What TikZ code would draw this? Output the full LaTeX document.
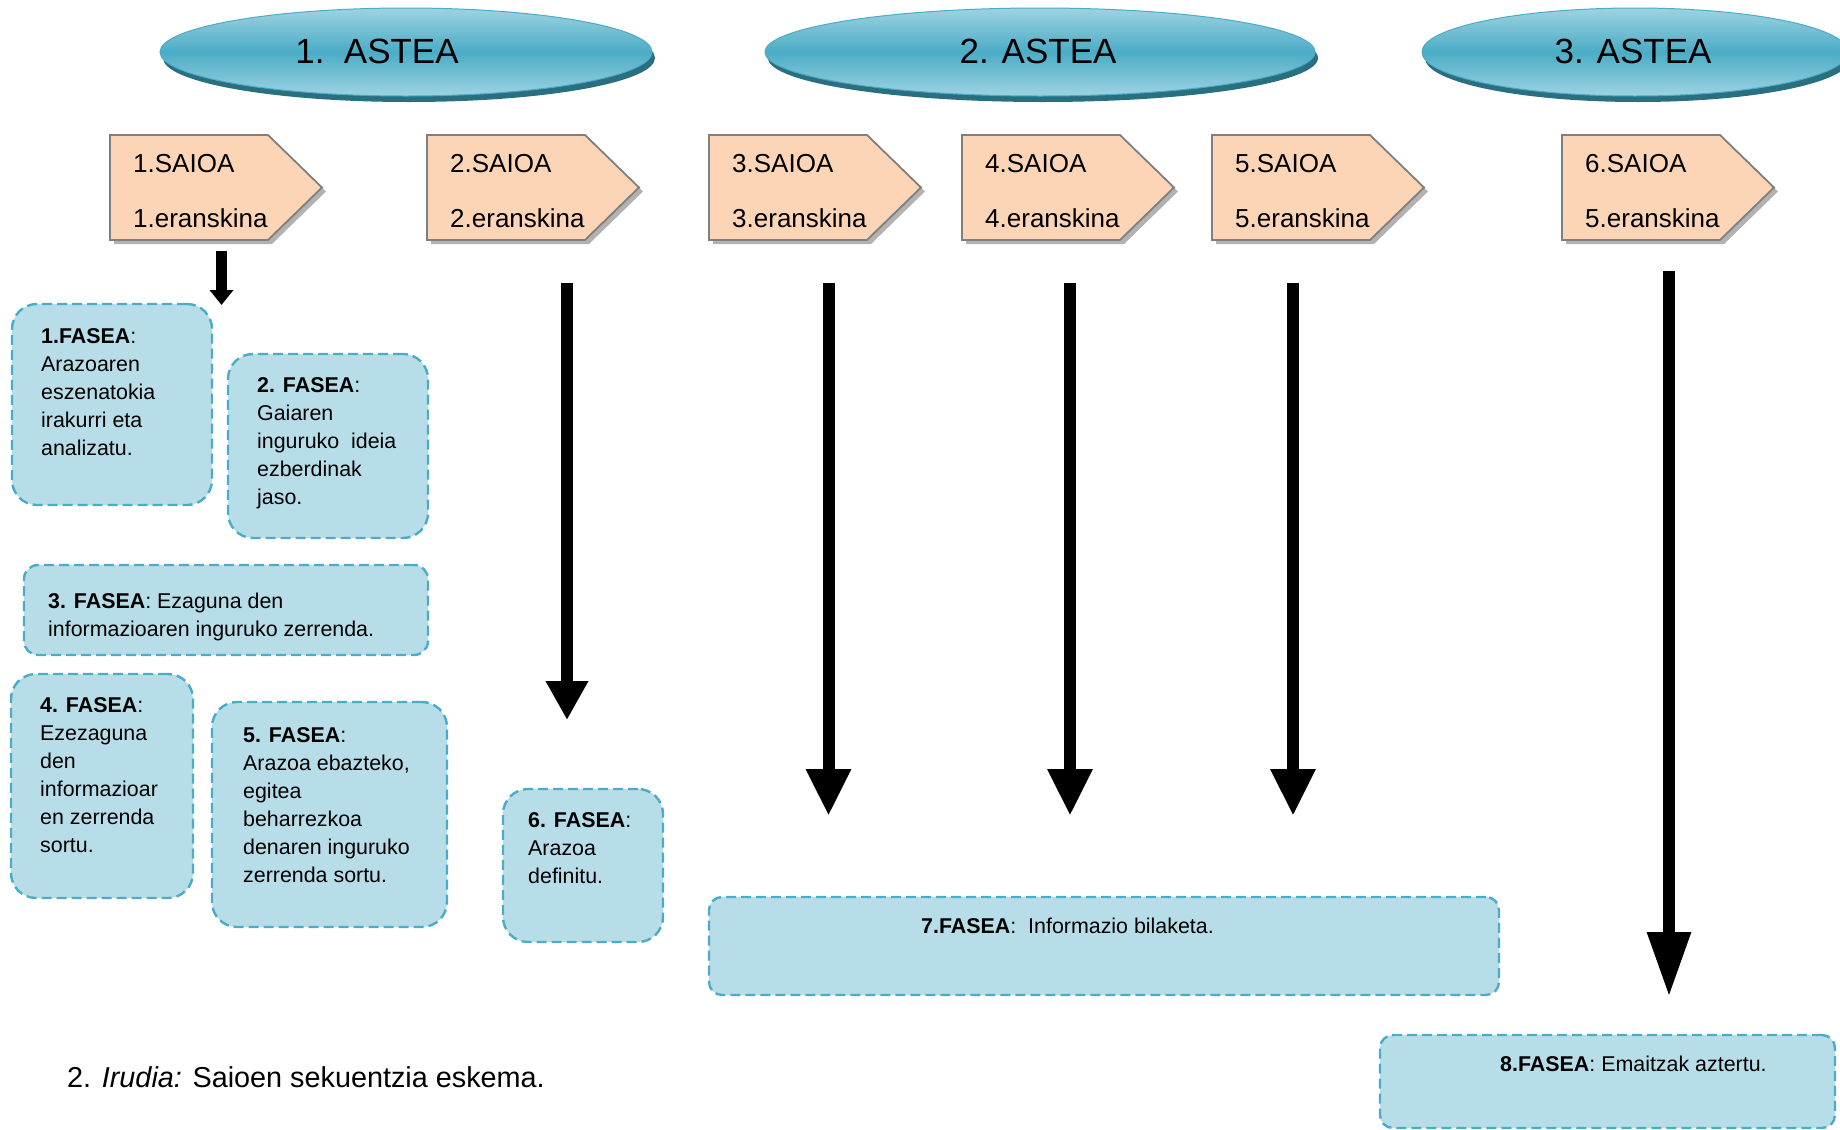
\documentclass[tikz,border=0pt]{standalone}
\usepackage{fontspec}
\setmainfont{Liberation Sans}
\usetikzlibrary{arrows.meta,shapes.geometric,shadows}
\definecolor{fasefill}{HTML}{B7DEE8}
\definecolor{faseline}{HTML}{4BACC6}
\definecolor{saioafill}{HTML}{FBD5B5}
\definecolor{saioaline}{HTML}{7F7F7F}
\definecolor{elltop}{HTML}{9ED3E2}
\definecolor{ellmid}{HTML}{4BACC6}
\definecolor{ellshadow}{HTML}{2A6F80}
\begin{document}
\begin{tikzpicture}[x=1pt,y=-1pt,
  astea/.style={ellipse, draw=ellmid, line width=1pt, top color=elltop, bottom color=elltop, middle color=ellmid,
    drop shadow={shadow xshift=3pt, shadow yshift=-6pt, fill=ellshadow, opacity=1}, inner sep=0pt},
  asteatxt/.style={font=\fontsize{35}{40}\selectfont, anchor=base, inner sep=0pt},
  saioa/.style={draw=saioaline, line width=1.8pt, fill=saioafill, line join=miter},
  saioashadow/.style={fill=black!30},
  saioatxt/.style={font=\fontsize{26}{31}\selectfont, anchor=base west, inner sep=0pt},
  fase/.style={draw=faseline, fill=fasefill, line width=2.4pt, dash pattern=on 10pt off 5pt, rounded corners=25pt, inner sep=0pt},
  fasewide/.style={fase, rounded corners=13pt},
  fasetxt/.style={font=\fontsize{21.4}{28}\selectfont, anchor=north west, align=left, inner sep=0pt},
  bigarrow/.style={line width=12pt, -{Triangle[length=47pt,width=42pt]}},
]
\useasboundingbox (0,0) rectangle (1840,1130);

% week ellipses
\node[astea, minimum width=492pt, minimum height=88pt] (e1) at (406,52) {};
\node[astea, minimum width=550pt, minimum height=88pt] (e2) at (1040,52) {};
\node[astea, minimum width=426pt, minimum height=88pt] (e3) at (1635,52) {};
\node[asteatxt] (e1t) at (377,63) {1.\ \ ASTEA};
\node[asteatxt] (e2t) at (1038,63) {2. ASTEA};
\node[asteatxt] (e3t) at (1633,63) {3. ASTEA};

% session tags
\foreach \x/\n/\e in {110/1/1,427/2/2,709/3/3,962/4/4,1212/5/5,1562/6/5}{
  \fill[saioashadow] (\x+4,139) -- ++(158,0) -- ++(54,52.5) -- ++(-54,52.5) -- ++(-158,0) -- cycle;
  \draw[saioa] (\x,135) -- ++(158,0) -- ++(54,52.5) -- ++(-54,52.5) -- ++(-158,0) -- cycle;
  \node[saioatxt] (s\n a) at (\x+23,172) {\n.SAIOA};
  \node[saioatxt] (s\n b) at (\x+23,227) {\e.eranskina};
}

% arrows
\coordinate (a1s) at (221.5,251); \coordinate (a1e) at (221.5,305);
\coordinate (a2s) at (567,283);   \coordinate (a2e) at (567,720);
\coordinate (a3s) at (828.5,283); \coordinate (a3e) at (828.5,816);
\coordinate (a4s) at (1070,283);  \coordinate (a4e) at (1070,816);
\coordinate (a5s) at (1293,283);  \coordinate (a5e) at (1293,816);
\coordinate (a6s) at (1669,271);  \coordinate (a6e) at (1669,997);
\draw[line width=11pt, -{Triangle[length=15pt,width=23pt]}] (a1s) -- (a1e);
\draw[line width=12pt, -{Triangle[length=39pt,width=40pt]}] (a2s) -- (a2e);
\draw[bigarrow] (a3s) -- (a3e);
\draw[bigarrow] (a4s) -- (a4e);
\draw[bigarrow] (a5s) -- (a5e);
\draw[line width=12pt, -{Triangle[length=65pt,width=41pt]}] (a6s) -- (a6e);

% phase boxes
\node[fase, minimum width=200pt, minimum height=201pt] (f1) at (112,404.5) {};
\node[fase, minimum width=200pt, minimum height=184pt] (f2) at (328,446) {};
\node[fase, rounded corners=14pt, minimum width=404pt, minimum height=90pt] (f3) at (226,610) {};
\node[fase, minimum width=182pt, minimum height=224pt] (f4) at (102,786) {};
\node[fase, minimum width=235pt, minimum height=225pt] (f5) at (329.5,814.5) {};
\node[fase, minimum width=160pt, minimum height=153pt] (f6) at (583,865.5) {};
\node[fasewide, minimum width=790pt, minimum height=98pt] (f7) at (1104,946) {};
\node[fasewide, minimum width=455pt, minimum height=93pt] (f8) at (1607.5,1081.5) {};

\node[fasetxt] (t1) at (41,328) {\textbf{1.FASEA}:\\Arazoaren\\eszenatokia\\irakurri eta\\analizatu.};
\node[fasetxt] (t2) at (257,377) {\textbf{2. FASEA}:\\Gaiaren\\inguruko\ \ ideia\\ezberdinak\\jaso.};
\node[fasetxt] (t3) at (48,593) {\textbf{3. FASEA}: Ezaguna den\\informazioaren inguruko zerrenda.};
\node[fasetxt] (t4) at (40,697) {\textbf{4. FASEA}:\\Ezezaguna\\den\\informazioar\\en zerrenda\\sortu.};
\node[fasetxt] (t5) at (243,727) {\textbf{5. FASEA}:\\Arazoa ebazteko,\\egitea\\beharrezkoa\\denaren inguruko\\zerrenda sortu.};
\node[fasetxt] (t6) at (528,812) {\textbf{6. FASEA}:\\Arazoa\\definitu.};
\node[fasetxt, anchor=base west] (t7) at (921,933) {\textbf{7.FASEA}:\ \ Informazio bilaketa.};
\node[fasetxt, anchor=base west] (t8) at (1500,1071) {\textbf{8.FASEA}: Emaitzak aztertu.};

% caption
\node[font=\fontsize{28.8}{33}\selectfont, anchor=base west, inner sep=0pt] (cap) at (67,1087) {2. \textit{Irudia:} Saioen sekuentzia eskema.};
\end{tikzpicture}
\end{document}
